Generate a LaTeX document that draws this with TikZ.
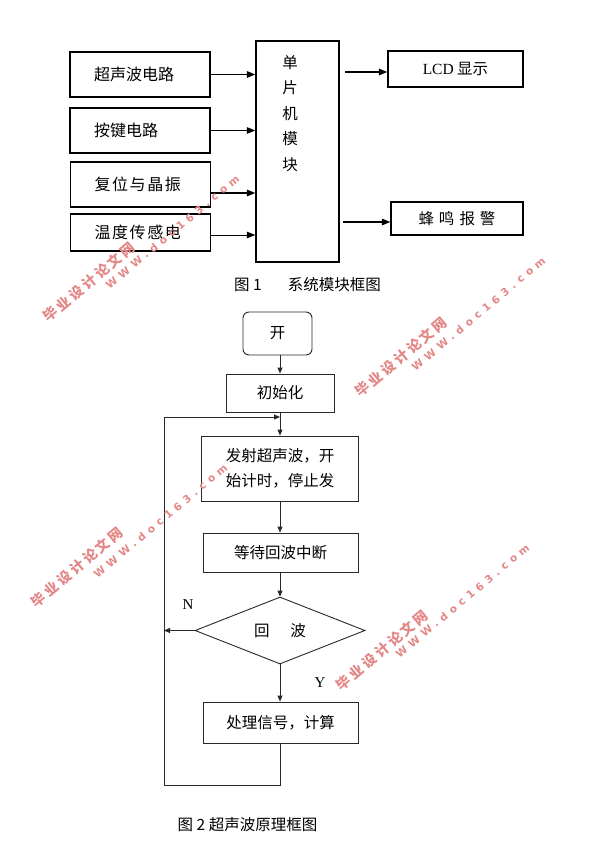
\documentclass[tikz,border=0pt]{standalone}
\usepackage{fontspec}
\setmainfont{Noto Sans CJK SC}
\newfontfamily\latinserif{Liberation Serif}
\newfontfamily\widecjk[LetterSpace=10]{Noto Sans CJK SC}
\newfontfamily\wmcjk[LetterSpace=20]{Noto Sans CJK SC}
\newfontfamily\wmlatin[LetterSpace=45]{DejaVu Sans}
\usetikzlibrary{arrows.meta,shapes.geometric}
\definecolor{wmred}{RGB}{228,135,135}
\definecolor{lineg}{RGB}{40,40,40}
\tikzset{
  txt/.style={font=\fontsize{15.5}{18}\selectfont},
  lbox/.style={draw, line width=1.3pt, minimum width=140pt, minimum height=45pt,
    text width=92pt, align=left, inner xsep=0pt, inner ysep=0pt, font=\fontsize{16}{18}\selectfont},
  rbox/.style={draw, line width=1.3pt, inner sep=0pt, txt},
  tarr/.style={-{Triangle[length=8.5pt,width=6.5pt]}, line width=1pt},
  fbox/.style={draw, line width=0.9pt, color=lineg, text=black, inner sep=0pt, txt},
  farr/.style={-{Triangle[length=6pt,width=5pt]}, line width=0.9pt, color=lineg},
  wmA/.style={font=\wmcjk\bfseries\fontsize{14}{14}\selectfont, text=wmred, rotate=40, anchor=west, inner sep=0pt},
  wmB/.style={font=\wmlatin\bfseries\fontsize{10.5}{10.5}\selectfont, text=wmred, rotate=40, anchor=west, inner sep=0pt},
}
\begin{document}
\begin{tikzpicture}[x=1pt,y=-1pt]
\fill[white] (0,0) rectangle (595,845);
\useasboundingbox (0,0) rectangle (595,845);

% ---------- Figure 1 ----------
\node[lbox] (us) at (140,74.5) {超声波电路};
\node[lbox] (kb) at (140,130.5) {按键电路};
\node[lbox] (rs) at (140.5,184.5) {\widecjk 复位与晶振};
\node[lbox, minimum height=37pt] (tp) at (140.5,232.5) {\widecjk 温度传感电};
\node[draw, line width=1.3pt, minimum width=83pt, minimum height=221pt, inner sep=0pt] (mcu) at (297.5,151.5) {};
\node[align=center, font=\fontsize{15.5}{25.5}\selectfont, inner sep=0pt] (mcut) at (290,113.5) {单\\片\\机\\模\\块};

\draw[tarr, line width=1.6pt] (us.east) -- (us.east -| mcu.west);
\draw[tarr] (kb.east) -- (kb.east -| mcu.west);
\draw[tarr, line width=1.6pt] ([yshift=-8.5pt]rs.east) -- ([yshift=-8.5pt]rs.east -| mcu.west);
\draw[tarr] ([yshift=-2.5pt]tp.east) -- ([yshift=-2.5pt]tp.east -| mcu.west);

\node[rbox, minimum width=135pt, minimum height=36pt] (lcd) at (455.5,69) {{\latinserif LCD} 显示};
\node[rbox, minimum width=132pt, minimum height=33pt] (bz) at (457,218.5) {蜂\hspace{5pt}鸣\hspace{5pt}报\hspace{5pt}警};
\coordinate (o1) at (345,72);
\coordinate (o2) at (343,222);
\draw[tarr, line width=1.3pt] (o1) -- (o1 -| lcd.west);
\draw[tarr, line width=1.3pt] (o2) -- (o2 -| bz.west);

\node[txt] (cap1) at (307.5,285) {图 1\hspace{26pt}系统模块框图};

% ---------- Figure 2 ----------
\node[fbox, rounded corners=6pt, minimum width=69pt, minimum height=43pt] (start) at (277.5,333.5) {开};
\node[fbox, minimum width=108pt, minimum height=38pt] (init) at (280,393) {初始化};
\node[fbox, minimum width=157pt, minimum height=65pt, align=center, font=\fontsize{15.5}{25}\selectfont] (emit) at (280,468.5) {发射超声波，开\\始计时，停止发};
\node[fbox, minimum width=155pt, minimum height=39pt] (wait) at (280.5,552.5) {等待回波中断};
\node[diamond, draw, line width=0.9pt, color=lineg, text=black, minimum width=170pt, minimum height=67pt, inner sep=0pt, txt] (dec) at (280,630.5) {回\hspace{21pt}波};
\node[fbox, minimum width=155pt, minimum height=41pt] (proc) at (280.5,722.5) {处理信号，计算};

\coordinate (lt) at (164,417);
\coordinate (lb) at (164,785);

\draw[farr] (start.south -| init.north) -- (init.north);
\draw[farr] (init.south) -- (init.south |- emit.north);
\draw[farr] (emit.south -| init.south) -- (init.south |- wait.north);
\draw[farr] (wait.south -| dec.north) -- (dec.north);
\draw[farr] (dec.south) -- (dec.south |- proc.north);
\draw[farr] (dec.west) -- (dec.west -| lt);
\draw[farr] (proc.south -| dec.south) -- (dec.south |- lb) -- (lb) -- (lt) -- (lt -| init.south);

\node[font=\latinserif\fontsize{15}{15}\selectfont] (nlab) at (188,605) {N};
\node[font=\latinserif\fontsize{15}{15}\selectfont] (ylab) at (320,683) {Y};

\node[txt] (cap2) at (247.5,825) {图 2 超声波原理框图};

% ---------- watermarks ----------
\foreach \ax/\ay/\bx/\by [count=\i] in {45/319/107/287, 357/394/413/369, 33/604/95/576, 338/687/397/656}{
  \node[wmA] (wma\i) at (\ax,\ay) {毕业设计论文网};
  \node[wmB] (wmb\i) at (\bx,\by) {WWW.doc163.com};
}
\end{tikzpicture}
\end{document}
